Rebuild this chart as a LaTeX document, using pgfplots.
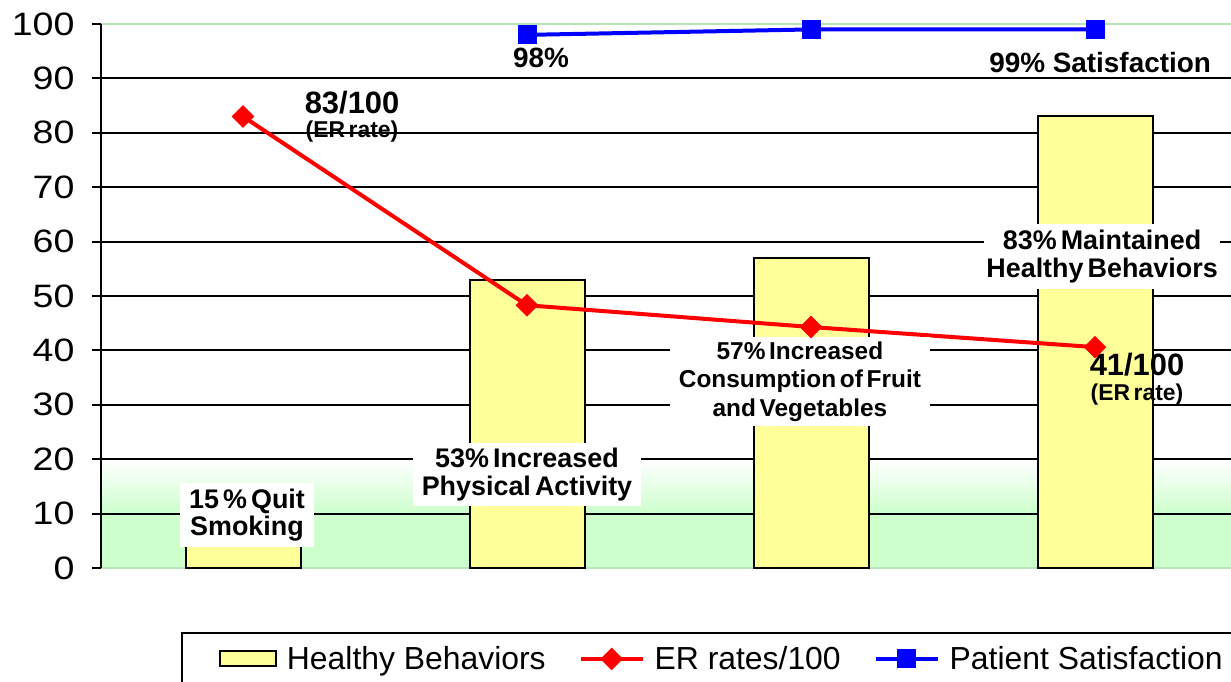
\documentclass[border=0pt]{standalone}
\usepackage{fontspec}
\setmainfont{Liberation Sans}
\newfontfamily\lblfont[WordSpace=0.55]{Liberation Sans}
\newfontfamily\tickfont[FakeStretch=1.16]{Liberation Sans}
\usepackage{pgfplots}
\pgfplotsset{compat=1.18}
\definecolor{barfill}{HTML}{FFFF99}
\definecolor{bggreen}{HTML}{CCFFCC}
\definecolor{erred}{HTML}{FF0000}
\definecolor{satblue}{HTML}{0000FF}
\pgfdeclareverticalshading{plotbg}{100bp}{color(0bp)=(bggreen); color(25bp)=(bggreen); color(30bp)=(bggreen); color(35bp)=(white); color(100bp)=(white)}
\pgfplotsset{
  mylineleg/.style={legend image code/.code={\draw[mark repeat=2,mark phase=2,##1] plot coordinates {(0bp,0bp) (31bp,0bp) (62bp,0bp)};}},
  mybarleg/.style={legend image code/.code={\draw[draw=black, fill=barfill, line width=2bp] (0bp,-7bp) rectangle (56bp,8bp);}},
}
\begin{document}
\begin{tikzpicture}
\begin{axis}[
  at={(101bp,114bp)}, anchor=south west,
  scale only axis, width=1136bp, height=544bp,
  xmin=-0.5, xmax=3.5, ymin=0, ymax=100,
  xtick=\empty,
  ytick={0,10,...,100},
  ytick pos=left, tick align=outside, major tick length=9bp,
  tick style={black, line width=2bp},
  extra y ticks={10,20,...,90}, extra y tick labels={},
  extra y tick style={grid=major, major tick length=0bp},
  grid style={black, line width=2bp},
  axis line style={draw=none},
  axis background/.style={shading=plotbg},
  /pgf/number format/assume math mode=true,
  yticklabel style={font=\tickfont\fontsize{32.5}{32.5}\selectfont, xshift=-14bp},
  clip=false,
  legend style={at={(0.0704,-0.117)}, anchor=north west, draw=black, line width=2bp,
    inner xsep=37bp, inner ysep=12bp, font=\fontsize{32}{36}\selectfont,
    /tikz/every odd column/.append style={column sep=8bp},
    /tikz/every even column/.append style={column sep=31bp}},
  legend columns=3,
  legend cell align=left,
]
\draw[bggreen!80!gray, line width=1.5bp] (axis cs:-0.5,0) -- (axis cs:3.5,0);
\draw[bggreen!90!black, line width=2bp] (axis cs:-0.5,100) -- (axis cs:3.5,100);

\addplot[ybar, bar width=115bp, fill=barfill, draw=black, line width=2bp, mybarleg]
  coordinates {(0,15) (1,53) (2,57) (3,83)};
\addlegendentry{Healthy Behaviors}

\addplot[erred, line width=4bp, mark=square*, mark size=7.5bp,
  mark options={rotate=45, fill=erred, draw=erred, line width=1bp}, mylineleg]
  coordinates {(0,83) (1,48.3) (2,44.3) (3,40.6)};
\addlegendentry{ER rates/100}

\addplot[satblue, line width=4bp, mark=square*, mark size=9bp,
  mark options={fill=satblue, draw=satblue, line width=1bp}, mylineleg]
  coordinates {(1,98) (2,99) (3,99)};
\addlegendentry{Patient Satisfaction}

\draw[black, line width=2bp] (axis cs:-0.5,0) -- (axis cs:-0.5,100);

% labels
\node[font=\lblfont\bfseries\fontsize{31}{31}\selectfont] at (axis cs:0.384,85.5) {83/100};
\node[font=\lblfont\bfseries\fontsize{23}{23}\selectfont] at (axis cs:0.384,80.3) {(ER rate)};
\node[font=\lblfont\bfseries\fontsize{31}{31}\selectfont] at (axis cs:3.148,37.3) {41/100};
\node[font=\lblfont\bfseries\fontsize{23}{23}\selectfont] at (axis cs:3.148,31.8) {(ER rate)};
\node[font=\bfseries\fontsize{28}{28}\selectfont] at (axis cs:1.049,93.75) {98\%};
\node[font=\bfseries\fontsize{28}{28}\selectfont] at (axis cs:3.018,93.0) {99\% Satisfaction};

\node[fill=white, inner xsep=2bp, inner ysep=6bp, align=center,
  font=\lblfont\bfseries\fontsize{27}{28}\selectfont] at (axis cs:3.025,57.26) {83\% Maintained\\Healthy Behaviors};
\node[fill=white, inner xsep=9bp, inner ysep=5bp, align=center,
  font=\lblfont\bfseries\fontsize{24.5}{28.5}\selectfont] at (axis cs:1.961,34.3) {57\% Increased\\Consumption of Fruit\\and Vegetables};
\node[fill=white, inner xsep=9bp, inner ysep=5bp, align=center,
  font=\lblfont\bfseries\fontsize{27}{27.5}\selectfont] at (axis cs:1.0,17.2) {53\% Increased\\Physical Activity};
\node[fill=white, inner xsep=9bp, inner ysep=6bp, align=center,
  font=\lblfont\bfseries\fontsize{27}{27}\selectfont] at (axis cs:0.014,9.7) {15 \% Quit\\Smoking};
\end{axis}
\pgfresetboundingbox
\path[use as bounding box] (0,0) rectangle (1231bp,682bp);
\end{tikzpicture}
\end{document}
